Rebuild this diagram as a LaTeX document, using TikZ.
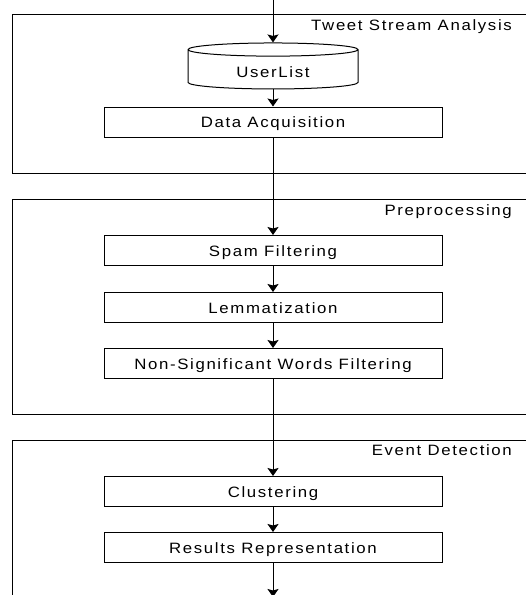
\documentclass[tikz,border=0pt]{standalone}
\usepackage{fontspec}
\newfontfamily\flowfont[FakeStretch=1.12,LetterSpace=11]{Liberation Sans}
\usetikzlibrary{shapes.geometric,arrows.meta}
\tikzset{
    base/.style={
        draw=black,
        line width=1pt,
        text=black,
        font=\flowfont\fontsize{15}{17}\selectfont,
    },
    % Processing step
    proc/.style={
        base,
        rectangle,
        minimum width=338pt,
        minimum height=30pt,
        text height=11pt,
        text depth=0pt,
        inner sep=0pt,
    },
    % Data store
    store/.style={
        base,
        cylinder,
        shape border rotate=90,
        aspect=0.18,
        minimum width=170pt,
        minimum height=46pt,
        text height=16pt,
        text depth=0pt,
        inner sep=0pt,
    },
    % Stage frame
    stage/.style={
        draw=black,
        line width=1pt,
    },
    % Stage name
    stagename/.style={
        font=\flowfont\fontsize{15}{17}\selectfont,
        anchor=base east,
        inner sep=0pt,
    },
    % Connector
    flow/.style={
        line width=1pt,
        -{Stealth[length=8pt,width=11pt,inset=1.5pt]},
    },
}

\begin{document}
\begin{tikzpicture}[x=1pt,y=1pt]
    \clip (0,0) rectangle (526,-595);

    % Stage frames
    \draw[stage] (12,-14) rectangle (540,-173);
    \draw[stage] (12,-199) rectangle (540,-414);
    \draw[stage] (12,-440) rectangle (540,-640);

    \node[stagename] (S1) at (512,-30.5) {Tweet Stream Analysis};
    \node[stagename] (S2) at (512,-215) {Preprocessing};
    \node[stagename] (S3) at (512,-455) {Event Detection};

    % Steps
    \node[store] (U) at (273,-69.5) {UserList};
    \node[proc] (DA) at (273,-122) {Data Acquisition};
    \node[proc] (SF) at (273,-250.5) {Spam Filtering};
    \node[proc] (LM) at (273,-307.5) {Lemmatization};
    \node[proc] (NW) at (273,-363.5) {Non-Significant Words Filtering};
    \node[proc] (CL) at (273,-491.5) {Clustering};
    \node[proc] (RR) at (273,-547.5) {Results Representation};

    \coordinate (in) at (273,2);
    \coordinate (out) at (273,-597);

    % Flow
    \draw[flow] (in) -- (U);
    \draw[flow] (U) -- (DA);
    \draw[flow] (DA) -- (SF);
    \draw[flow] (SF) -- (LM);
    \draw[flow] (LM) -- (NW);
    \draw[flow] (NW) -- (CL);
    \draw[flow] (CL) -- (RR);
    \draw[flow] (RR) -- (out);
\end{tikzpicture}
\end{document}
